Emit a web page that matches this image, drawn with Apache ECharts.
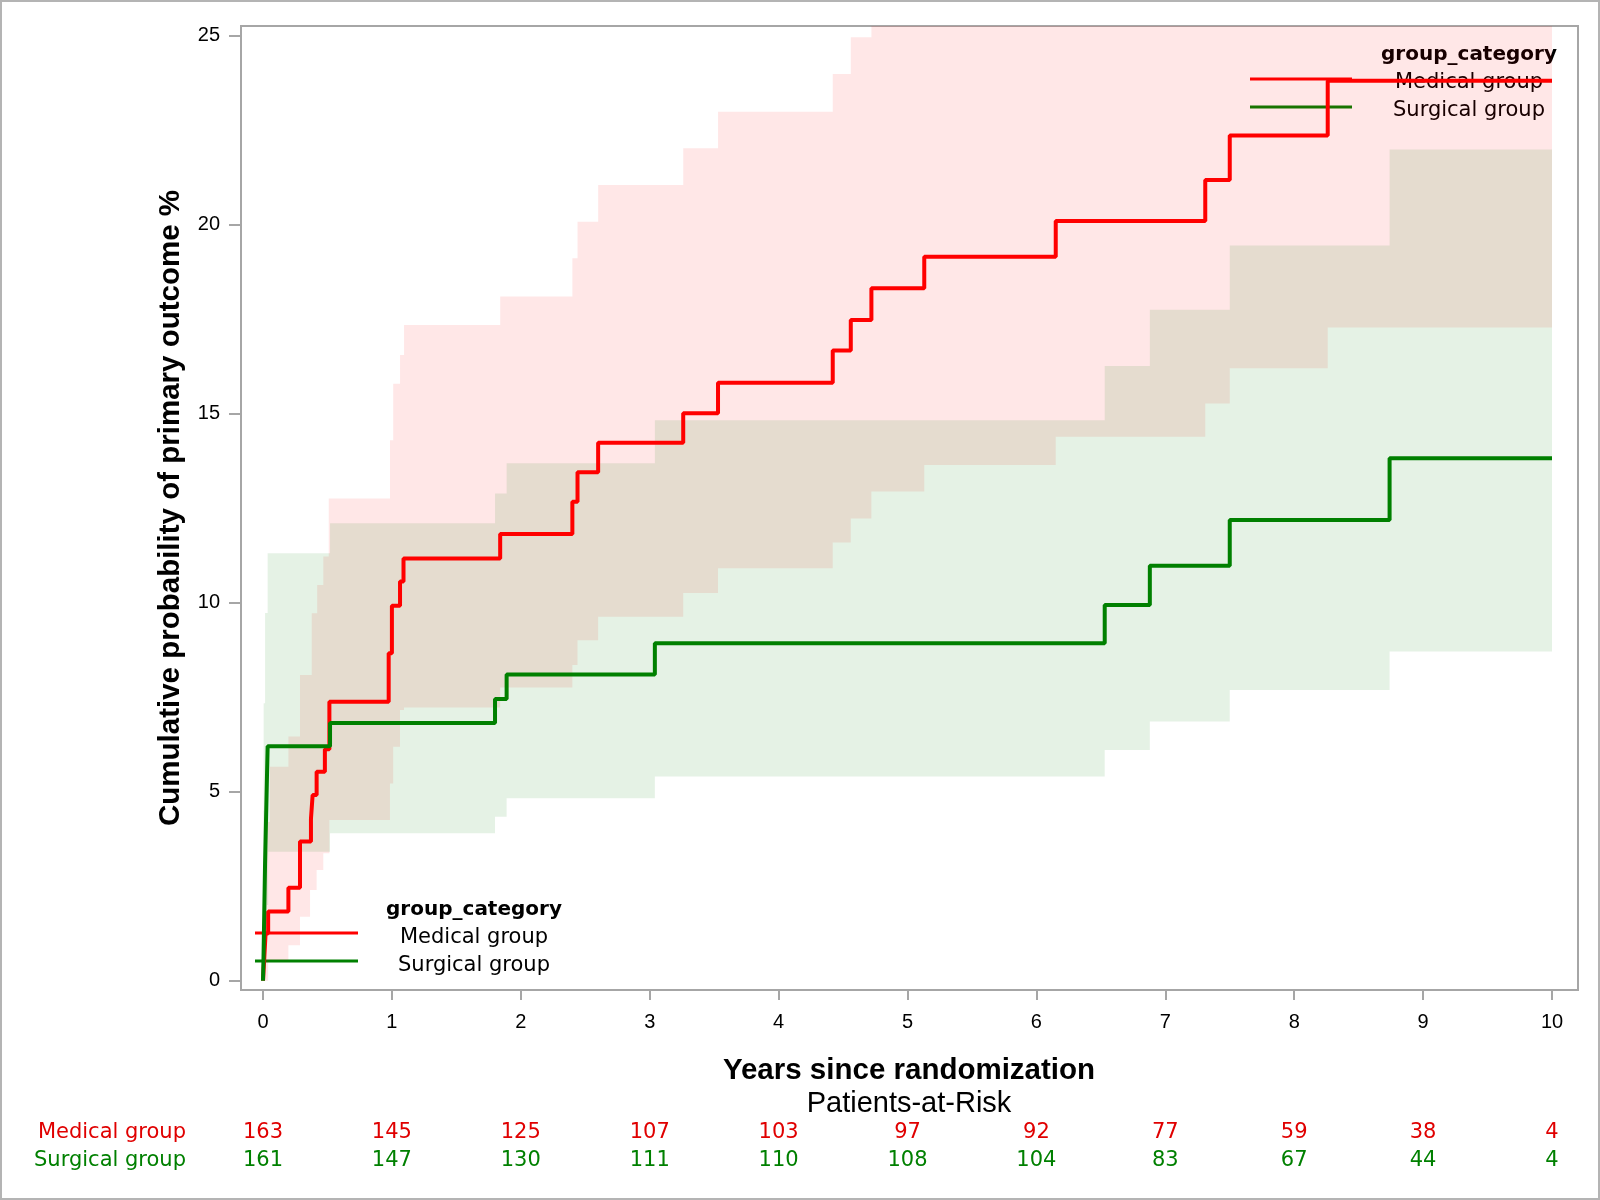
<!DOCTYPE html>
<html><head><meta charset="utf-8">
<script src="https://cdn.jsdelivr.net/npm/echarts@6/dist/echarts.min.js"></script>
<style>html,body{margin:0;padding:0;background:#fff}#c{width:1600px;height:1200px}</style>
</head><body><div id="c"></div>
<script>
// ---------- data ----------
const groups = ['Medical group', 'Surgical group'];
const legendTitle = 'group_category';
const xTicks = [0, 1, 2, 3, 4, 5, 6, 7, 8, 9, 10];
const yTicks = [0, 5, 10, 15, 20, 25];

// Kaplan-Meier failure estimates (%), step after each time
const medTime = [0, 0.01, 0.02, 0.04, 0.197, 0.287, 0.372, 0.385, 0.416, 0.48, 0.515, 0.975, 1.0, 1.063, 1.09, 1.84, 2.40, 2.44, 2.60, 3.26, 3.53, 4.42, 4.56, 4.72, 5.13, 6.15, 7.31, 7.50, 8.26, 10];
const medEst  = [0, 0.61, 1.25, 1.83, 2.46, 3.68, 4.28, 4.91, 5.53, 6.12, 7.38, 8.66, 9.92, 10.56, 11.17, 11.82, 12.67, 13.45, 14.23, 15.01, 15.82, 16.67, 17.48, 18.32, 19.15, 20.10, 21.18, 22.36, 23.81, 23.81];
const surgTime = [0, 0.004, 0.007, 0.01, 0.013, 0.016, 0.02, 0.024, 0.028, 0.032, 0.036, 0.52, 1.80, 1.89, 3.04, 6.53, 6.88, 7.50, 8.74, 10];
const surgEst  = [0, 0.62, 1.24, 1.86, 2.48, 3.11, 3.73, 4.35, 4.97, 5.59, 6.20, 6.82, 7.45, 8.10, 8.93, 9.94, 10.98, 12.19, 13.82, 13.82];

// confidence bands
const medUpperT = [0, 0.01, 0.054, 0.197, 0.287, 0.378, 0.42, 0.468, 0.51, 0.985, 1.01, 1.063, 1.094, 1.84, 2.40, 2.44, 2.60, 3.26, 3.53, 4.42, 4.56, 4.72, 5.13, 6.15, 7.31, 7.50, 8.26, 10];
const medUpper  = [0, 4.2, 5.66, 6.46, 8.09, 9.72, 10.47, 11.22, 12.76, 14.30, 15.79, 16.55, 17.35, 18.10, 19.11, 20.08, 21.05, 22.02, 22.99, 23.99, 24.96, 26.0, 26.9, 27.9, 29.1, 30.3, 31.9, 31.9];
const medLowerT = [0, 0.04, 0.197, 0.287, 0.365, 0.416, 0.468, 0.515, 0.985, 1.01, 1.063, 1.094, 1.84, 2.40, 2.44, 2.60, 3.26, 3.53, 4.42, 4.56, 4.72, 5.13, 6.15, 7.31, 7.50, 8.26, 10];
const medLower  = [0, 0.55, 0.94, 1.69, 2.40, 2.93, 3.37, 4.25, 5.22, 6.19, 7.16, 7.23, 7.76, 8.35, 9.01, 9.63, 10.26, 10.91, 11.59, 12.23, 12.94, 13.64, 14.39, 15.27, 16.20, 17.28, 17.28];
const surgUpperT = [0, 0.002, 0.005, 0.016, 0.036, 0.52, 1.80, 1.89, 3.04, 6.53, 6.88, 7.50, 8.74, 10];
const surgUpper  = [0, 4.5, 7.34, 9.73, 11.31, 12.10, 12.89, 13.69, 14.83, 16.26, 17.75, 19.45, 21.99, 21.99];
const surgLowerT = [0, 0.01, 0.02, 0.03, 0.04, 0.52, 1.80, 1.89, 3.04, 6.53, 6.88, 7.50, 8.74, 10];
const surgLower  = [0, 0.3, 1.0, 2.0, 3.41, 3.90, 4.34, 4.83, 5.40, 6.10, 6.86, 7.69, 8.71, 8.71];

// patients at risk
const medAtRisk  = [163, 145, 125, 107, 103, 97, 92, 77, 59, 38, 4];
const surgAtRisk = [161, 147, 130, 111, 110, 108, 104, 83, 67, 44, 4];

// ---------- chart ----------
const X_MIN = -0.1707, X_MAX = 10.2017, Y_MIN = -0.246, Y_MAX = 25.257;
const RED = '#ff0000', GREEN = '#008000';
const RED_TXT = '#e00000';

function bandSeries(upT, up, loT, lo, color) {
  return {
    type: 'custom', silent: true, z: 1, data: [[0, 0]],
    renderItem: function (params, api) {
      const cl = v => Math.max(Y_MIN, Math.min(Y_MAX, v));
      const pts = [];
      for (let i = 0; i < upT.length - 1; i++) {
        pts.push(api.coord([upT[i], cl(up[i])]));
        pts.push(api.coord([upT[i + 1], cl(up[i])]));
      }
      for (let i = loT.length - 2; i >= 0; i--) {
        pts.push(api.coord([loT[i + 1], cl(lo[i])]));
        pts.push(api.coord([loT[i], cl(lo[i])]));
      }
      return { type: 'polygon', shape: { points: pts }, style: { fill: color } };
    }
  };
}

function riskAxis(arr, color, offset) {
  return {
    type: 'value', gridIndex: 0, position: 'bottom', offset: offset,
    min: X_MIN, max: X_MAX,
    axisLine: { show: false, onZero: false }, axisTick: { show: false }, splitLine: { show: false },
    axisLabel: {
      customValues: xTicks, margin: 0, color: color,
      fontFamily: 'DejaVu Sans', fontSize: 21,
      formatter: v => String(arr[xTicks.indexOf(Math.round(v))])
    }
  };
}

const chart = echarts.init(document.getElementById('c'), null, { renderer: 'canvas' });
const tickFont = { fontFamily: 'Liberation Sans', fontSize: 20, color: '#000' };

const option = {
  animation: false,
  backgroundColor: '#fff',
  grid: { left: 241, top: 26, width: 1337, height: 964, show: true, borderColor: '#a6a6a6', borderWidth: 2, backgroundColor: 'transparent' },
  xAxis: [
    {
      type: 'value', min: X_MIN, max: X_MAX, position: 'bottom',
      axisLine: { show: false, onZero: false },
      axisTick: { show: true, customValues: xTicks, length: 10, lineStyle: { color: '#a6a6a6', width: 2 } },
      axisLabel: Object.assign({ customValues: xTicks, margin: 22 }, tickFont),
      splitLine: { show: false }
    },
    riskAxis(medAtRisk, RED_TXT, 132),
    riskAxis(surgAtRisk, GREEN, 160.5)
  ],
  yAxis: {
    type: 'value', min: Y_MIN, max: Y_MAX, position: 'left',
    axisLine: { show: false, onZero: false },
    axisTick: { show: true, customValues: yTicks, length: 12, lineStyle: { color: '#a6a6a6', width: 2 } },
    axisLabel: Object.assign({ customValues: yTicks, margin: 21 }, tickFont),
    splitLine: { show: false }
  },
  series: [
    bandSeries(medUpperT, medUpper, medLowerT, medLower, 'rgba(255,0,0,0.095)'),
    bandSeries(surgUpperT, surgUpper, surgLowerT, surgLower, 'rgba(0,128,0,0.10)'),
    {
      type: 'line', name: groups[0], step: 'end', showSymbol: false, symbol: 'none', z: 3,
      lineStyle: { color: RED, width: 4 }, itemStyle: { color: RED },
      data: medTime.map((t, i) => [t, medEst[i]])
    },
    {
      type: 'line', name: groups[1], step: 'end', showSymbol: false, symbol: 'none', z: 4,
      lineStyle: { color: GREEN, width: 4 }, itemStyle: { color: GREEN },
      data: surgTime.map((t, i) => [t, surgEst[i]])
    }
  ],
  graphic: [
    { type: 'rect', shape: { x: 1, y: 1, width: 1598, height: 1198 }, style: { fill: 'none', stroke: '#b4b4b4', lineWidth: 2 }, z: 0 },
    // axis titles
    { type: 'text', x: 909, y: 1071, style: { text: 'Years since randomization', fontFamily: 'Liberation Sans', fontWeight: 'bold', fontSize: 29.5, fill: '#000', align: 'center', verticalAlign: 'middle' } },
    { type: 'text', x: 171, y: 508, rotation: Math.PI / 2, style: { text: 'Cumulative probability of primary outcome %', fontFamily: 'Liberation Sans', fontWeight: 'bold', fontSize: 29.5, fill: '#000', align: 'center', verticalAlign: 'middle' } },
    { type: 'text', x: 909, y: 1104, style: { text: 'Patients-at-Risk', fontFamily: 'Liberation Sans', fontSize: 29, fill: '#000', align: 'center', verticalAlign: 'middle' } },
    // at-risk row labels
    { type: 'text', x: 186, y: 1132.5, style: { text: groups[0], fontFamily: 'DejaVu Sans', fontSize: 21, fill: RED_TXT, align: 'right', verticalAlign: 'middle' } },
    { type: 'text', x: 186, y: 1161, style: { text: groups[1], fontFamily: 'DejaVu Sans', fontSize: 21, fill: GREEN, align: 'right', verticalAlign: 'middle' } },
    // legend bottom-left
    { type: 'text', x: 474, y: 909.5, style: { text: legendTitle, fontFamily: 'DejaVu Sans', fontWeight: 'bold', fontSize: 20, fill: '#000', align: 'center', verticalAlign: 'middle' } },
    { type: 'line', shape: { x1: 255, y1: 933, x2: 358, y2: 933 }, style: { stroke: RED, lineWidth: 3 } },
    { type: 'line', shape: { x1: 255, y1: 961, x2: 358, y2: 961 }, style: { stroke: GREEN, lineWidth: 3 } },
    { type: 'text', x: 474, y: 937.5, style: { text: groups[0], fontFamily: 'DejaVu Sans', fontSize: 21, fill: '#000', align: 'center', verticalAlign: 'middle' } },
    { type: 'text', x: 474, y: 966, style: { text: groups[1], fontFamily: 'DejaVu Sans', fontSize: 21, fill: '#000', align: 'center', verticalAlign: 'middle' } },
    // legend top-right
    { type: 'text', x: 1469, y: 55, style: { text: legendTitle, fontFamily: 'DejaVu Sans', fontWeight: 'bold', fontSize: 20, fill: '#000', align: 'center', verticalAlign: 'middle' } },
    { type: 'line', shape: { x1: 1250, y1: 79, x2: 1352, y2: 79 }, style: { stroke: RED, lineWidth: 3 } },
    { type: 'line', shape: { x1: 1250, y1: 107, x2: 1352, y2: 107 }, style: { stroke: GREEN, lineWidth: 3 } },
    { type: 'text', x: 1469, y: 83, style: { text: groups[0], fontFamily: 'DejaVu Sans', fontSize: 21, fill: '#000', align: 'center', verticalAlign: 'middle' } },
    { type: 'text', x: 1469, y: 110.5, style: { text: groups[1], fontFamily: 'DejaVu Sans', fontSize: 21, fill: '#000', align: 'center', verticalAlign: 'middle' } }
  ]
};
chart.setOption(option);
</script>
</body></html>
